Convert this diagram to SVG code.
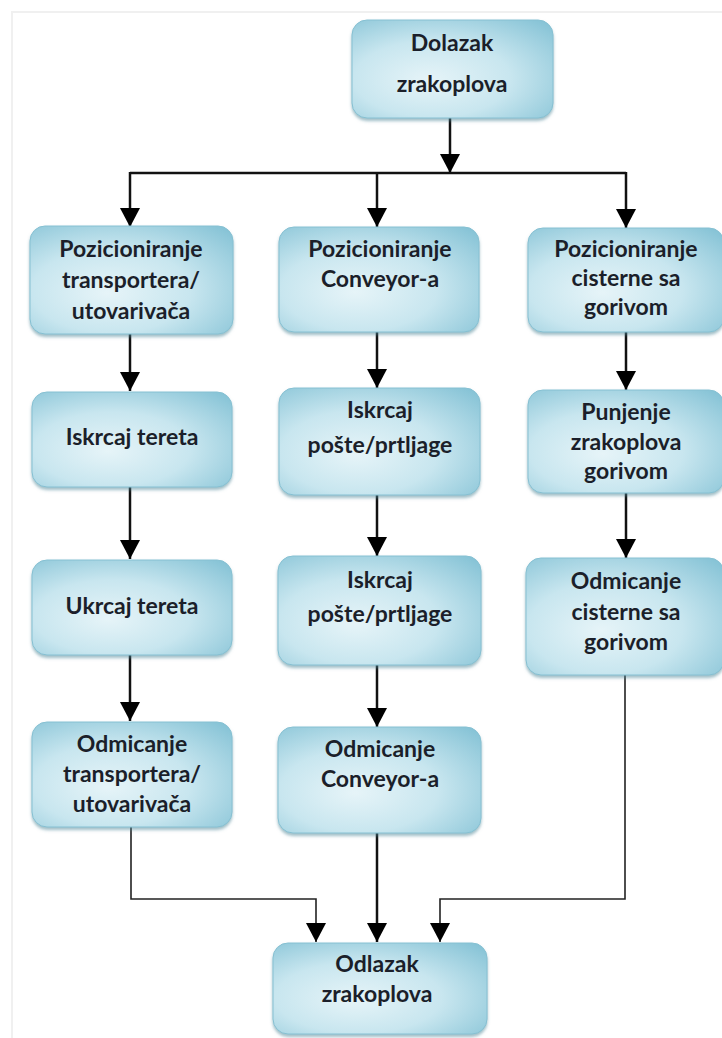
<svg xmlns="http://www.w3.org/2000/svg" width="722" height="1038" viewBox="0 0 722 1038">
<style>
.box{fill:url(#g);stroke:#86c0d2;stroke-width:1;filter:url(#sh)}
.t{font-family:Lato,"Liberation Sans",sans-serif;font-weight:bold;font-size:23px;fill:#1b1f2a;text-anchor:middle}
.c{fill:none;stroke:#111;stroke-width:2.5}
.m{fill:none;stroke:#222;stroke-width:1.6}
</style>
<defs>
<radialGradient id="g" cx="0.42" cy="0.58" r="0.78" fx="0.38" fy="0.62">
<stop offset="0" stop-color="#e6f4f8"/>
<stop offset="0.5" stop-color="#c8e6ef"/>
<stop offset="1" stop-color="#86c3d6"/>
</radialGradient>
<filter id="sh" x="-10%" y="-10%" width="120%" height="130%">
<feDropShadow dx="0" dy="2.5" stdDeviation="1.5" flood-color="#4f8798" flood-opacity="0.55"/>
</filter>
<marker id="b" markerUnits="userSpaceOnUse" markerWidth="20" markerHeight="20" viewBox="0 0 20 20" refX="19" refY="10" orient="auto">
<path d="M0,0 L19,10 L0,20 Z" fill="#000"/>
</marker>
</defs>
<rect width="722" height="1038" fill="#fff"/>
<path d="M12,1038 V12 H722" fill="none" stroke="#f0f0f0" stroke-width="2"/>

<g id="connectors">
<path class="c" d="M450,118 V173" marker-end="url(#b)"/>
<path class="c" d="M130,173 H626"/>
<path class="c" d="M130,172 V227" marker-end="url(#b)"/>
<path class="c" d="M377,172 V227" marker-end="url(#b)"/>
<path class="c" d="M626,172 V228" marker-end="url(#b)"/>
<path class="c" d="M130,334 V391" marker-end="url(#b)"/>
<path class="c" d="M130,487 V559" marker-end="url(#b)"/>
<path class="c" d="M130,655 V721" marker-end="url(#b)"/>
<path class="c" d="M377,332 V388" marker-end="url(#b)"/>
<path class="c" d="M377,495 V556" marker-end="url(#b)"/>
<path class="c" d="M377,665 V727" marker-end="url(#b)"/>
<path class="c" d="M626,332 V390" marker-end="url(#b)"/>
<path class="c" d="M626,493 V558" marker-end="url(#b)"/>
<path class="m" d="M131,827 V899 H316 V942" marker-end="url(#b)"/>
<path class="c" d="M377,833 V942" marker-end="url(#b)"/>
<path class="m" d="M625,675 V899 H440 V942" marker-end="url(#b)"/>
</g>

<g id="n-dolazak">
<rect class="box" x="352" y="20" width="201" height="98" rx="15"/>
<text class="t" x="452" y="51">Dolazak</text>
<text class="t" x="452" y="92">zrakoplova</text>
</g>

<g id="n-poz-trans">
<rect class="box" x="30" y="226" width="203" height="108" rx="15"/>
<text class="t" x="131" y="257">Pozicioniranje</text>
<text class="t" x="131" y="288">transportera/</text>
<text class="t" x="131" y="319">utovarivača</text>
</g>
<g id="n-iskrcaj-tereta">
<rect class="box" x="32" y="392" width="200" height="95" rx="15"/>
<text class="t" x="132" y="445">Iskrcaj tereta</text>
</g>
<g id="n-ukrcaj-tereta">
<rect class="box" x="32" y="560" width="200" height="95" rx="15"/>
<text class="t" x="132" y="614">Ukrcaj tereta</text>
</g>
<g id="n-odm-trans">
<rect class="box" x="32" y="722" width="200" height="105" rx="15"/>
<text class="t" x="132" y="752">Odmicanje</text>
<text class="t" x="132" y="782">transportera/</text>
<text class="t" x="132" y="812">utovarivača</text>
</g>

<g id="n-poz-conv">
<rect class="box" x="279" y="227" width="200" height="105" rx="15"/>
<text class="t" x="380" y="257">Pozicioniranje</text>
<text class="t" x="380" y="287">Conveyor-a</text>
</g>
<g id="n-iskrcaj-poste-1">
<rect class="box" x="279" y="388" width="201" height="107" rx="15"/>
<text class="t" x="380" y="418">Iskrcaj</text>
<text class="t" x="380" y="453">pošte/prtljage</text>
</g>
<g id="n-iskrcaj-poste-2">
<rect class="box" x="278" y="556" width="203" height="109" rx="15"/>
<text class="t" x="380" y="588">Iskrcaj</text>
<text class="t" x="380" y="622">pošte/prtljage</text>
</g>
<g id="n-odm-conv">
<rect class="box" x="278" y="727" width="203" height="106" rx="15"/>
<text class="t" x="380" y="757">Odmicanje</text>
<text class="t" x="380" y="787">Conveyor-a</text>
</g>

<g id="n-poz-cist">
<rect class="box" x="528" y="228" width="196" height="104" rx="15"/>
<text class="t" x="626" y="257">Pozicioniranje</text>
<text class="t" x="626" y="286">cisterne sa</text>
<text class="t" x="626" y="315">gorivom</text>
</g>
<g id="n-punjenje">
<rect class="box" x="528" y="390" width="196" height="103" rx="15"/>
<text class="t" x="626" y="420">Punjenje</text>
<text class="t" x="626" y="450">zrakoplova</text>
<text class="t" x="626" y="479">gorivom</text>
</g>
<g id="n-odm-cist">
<rect class="box" x="526" y="558" width="198" height="117" rx="15"/>
<text class="t" x="626" y="589">Odmicanje</text>
<text class="t" x="626" y="620">cisterne sa</text>
<text class="t" x="626" y="650">gorivom</text>
</g>

<g id="n-odlazak">
<rect class="box" x="273" y="943" width="214" height="91" rx="15"/>
<text class="t" x="377" y="972">Odlazak</text>
<text class="t" x="377" y="1002">zrakoplova</text>
</g>
</svg>
